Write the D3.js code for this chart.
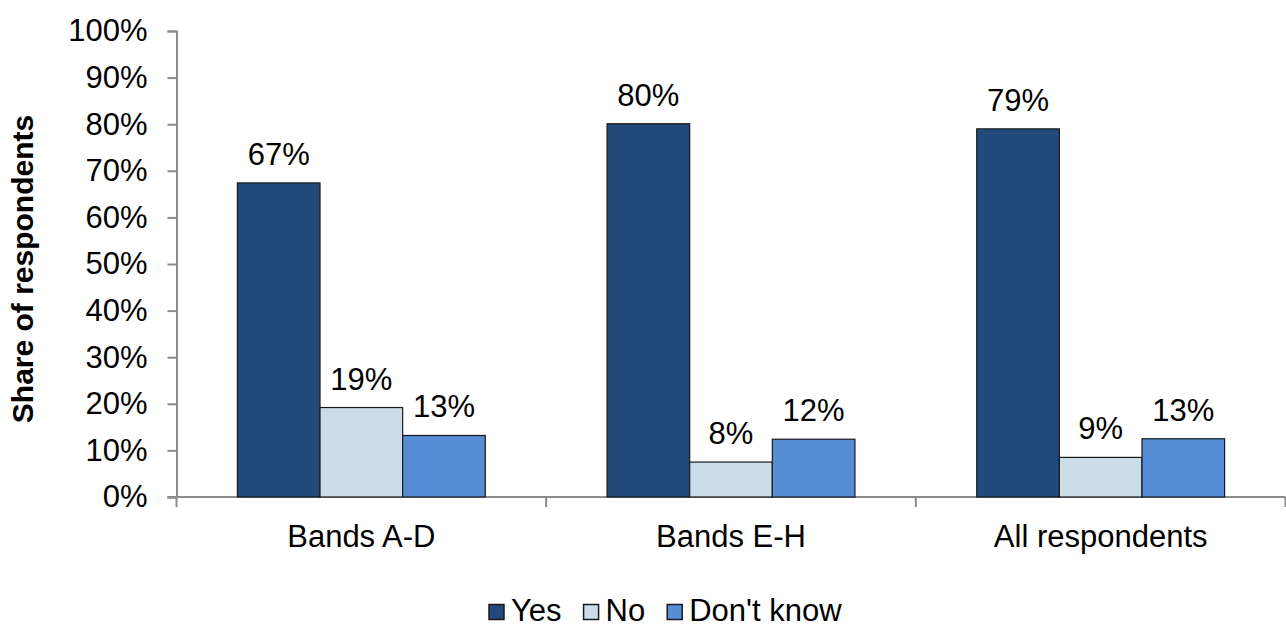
<!DOCTYPE html>
<html>
<head>
<meta charset="utf-8">
<script src="https://cdn.jsdelivr.net/npm/d3@7"></script>
<style>
  html, body { margin: 0; padding: 0; background: #ffffff; }
  svg { display: block; }
  text { font-family: "Liberation Sans", Arial, sans-serif; fill: #000; }
</style>
</head>
<body>
<svg id="chart" width="1286" height="630"></svg>
<script>
// Survey responses by respondent group (percent)
const categories = ["Bands A-D", "Bands E-H", "All respondents"];
const series = ["Yes", "No", "Don't know"];
const yesValues = [67.4, 80.1, 79.0];
const noValues = [19.2, 7.5, 8.5];
const dontKnowValues = [13.2, 12.4, 12.5];
const yTicks = [0, 10, 20, 30, 40, 50, 60, 70, 80, 90, 100];
const yTitle = "Share of respondents";

const seriesValues = [yesValues, noValues, dontKnowValues];
const colors = ["#214a7b", "#ccdce9", "#558ed5"];

const svg = d3.select("#chart");
const fontSize = 31;

const y = d3.scaleLinear().domain([0, 100]).range([497, 31]);
const x = d3.scaleBand().domain(categories).range([176.5, 1285.5]).paddingInner(0).paddingOuter(0);
const xs = d3.scaleBand().domain(series).range([0, x.bandwidth()]).paddingInner(0).paddingOuter(0.737);

// Y axis
const yAxis = svg.append("g")
  .attr("transform", `translate(${x.range()[0]},0)`)
  .call(d3.axisLeft(y).tickValues(yTicks).tickSize(9).tickPadding(20).tickFormat(d => d + "%"));
yAxis.select(".domain").attr("stroke", "#8c8c8c").attr("stroke-width", 2);
yAxis.selectAll(".tick line").attr("stroke", "#8c8c8c").attr("stroke-width", 2);
yAxis.selectAll(".tick text")
  .attr("font-size", fontSize)
  .attr("font-family", "Liberation Sans, Arial, sans-serif")
  .attr("fill", "#000");

// X axis with ticks at category boundaries
const xAxisG = svg.append("g").attr("transform", `translate(0,${y(0)})`);
xAxisG.append("line")
  .attr("x1", x.range()[0] - 9).attr("x2", x.range()[1])
  .attr("stroke", "#8c8c8c").attr("stroke-width", 2);
const boundaries = categories.map(c => x(c)).concat([x(categories[categories.length - 1]) + x.bandwidth()]);
xAxisG.selectAll("line.tick").data(boundaries).join("line")
  .attr("class", "tick")
  .attr("x1", d => d).attr("x2", d => d)
  .attr("y1", 0).attr("y2", 10)
  .attr("stroke", "#8c8c8c").attr("stroke-width", 2);
xAxisG.selectAll("text.cat").data(categories).join("text")
  .attr("class", "cat")
  .attr("x", d => x(d) + x.bandwidth() / 2)
  .attr("y", 50)
  .attr("text-anchor", "middle")
  .attr("font-size", fontSize)
  .text(d => d);

// Bars
const groups = svg.append("g").selectAll("g").data(categories).join("g")
  .attr("transform", d => `translate(${x(d)},0)`);

series.forEach((s, si) => {
  groups.append("rect")
    .attr("x", xs(s))
    .attr("y", (d, i) => y(seriesValues[si][i]))
    .attr("width", xs.bandwidth())
    .attr("height", (d, i) => y(0) - y(seriesValues[si][i]))
    .attr("fill", colors[si])
    .attr("stroke", "#1a1a1a")
    .attr("stroke-width", 1.2);
  groups.append("text")
    .attr("x", xs(s) + xs.bandwidth() / 2)
    .attr("y", (d, i) => y(seriesValues[si][i]) - 18)
    .attr("text-anchor", "middle")
    .attr("font-size", fontSize)
    .text((d, i) => Math.round(seriesValues[si][i]) + "%");
});

// Y axis title
svg.append("text")
  .attr("transform", "translate(33,269) rotate(-90)")
  .attr("text-anchor", "middle")
  .attr("font-size", 30)
  .attr("font-weight", "bold")
  .text(yTitle);

// Legend
const legend = svg.append("g").attr("transform", "translate(488,0)");
let lx = 0;
series.forEach((s, si) => {
  legend.append("rect")
    .attr("x", lx + 1).attr("y", 604.5)
    .attr("width", 15).attr("height", 15)
    .attr("fill", colors[si])
    .attr("stroke", "#1a1a1a").attr("stroke-width", 1.5);
  const t = legend.append("text")
    .attr("x", lx + 23).attr("y", 621)
    .attr("font-size", fontSize)
    .text(s);
  lx += 23 + t.node().getComputedTextLength() + 21;
});
</script>
</body>
</html>
